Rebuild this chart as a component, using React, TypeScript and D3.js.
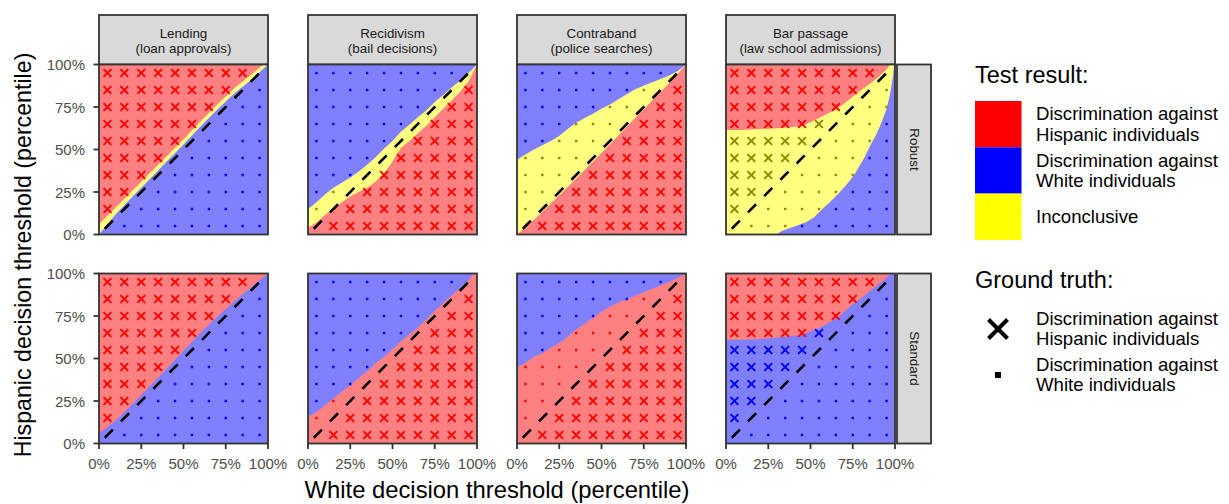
import React from "react";
import * as d3 from "d3";

const categories = ["Lending", "Recidivism", "Contraband", "Bar passage"];
const categoryNotes = ["(loan approvals)", "(bail decisions)", "(police searches)", "(law school admissions)"];
const testTypes = ["Robust", "Standard"];

// result in the upper-left part of each panel ("hisp" = against Hispanic, "white" = against White)
const upperLeftResult = ["hisp", "white", "white", "hisp"];
// ground truth is "against Hispanic" above the diagonal (true) or below it (false)
const hispTruthAbove = [true, false, false, true];

const gridValues = [5, 15, 25, 35, 45, 55, 65, 75, 85, 95];
const tickValues = [0, 25, 50, 75, 100];

// region boundaries, [white threshold %, hispanic threshold %]
const lendingRobustUpper = [[0, 6], [10, 16], [20, 26], [30, 36], [40, 46], [50, 56], [60, 66.5], [70, 76.5], [80, 86], [90, 94], [97, 100], [100, 100]];
const lendingRobustLower = [[0, 0], [10, 12], [20, 22.5], [30, 32.5], [40, 43], [50, 53], [60, 63.5], [70, 73.5], [80, 83], [90, 91], [100, 100]];
const lendingStandard = [[0, 6], [10, 13.5], [20, 23.5], [30, 33.5], [40, 44], [50, 54.5], [60, 65], [70, 74.5], [80, 83.5], [90, 92], [100, 100]];

const recidRobustUpper = [[0, 15], [5, 19], [10, 23.5], [15, 27.5], [20, 30.5], [25, 33.5], [30, 37], [35, 41], [40, 45.5], [45, 50.5], [50, 55], [55, 60.5], [60, 64.5], [65, 69], [70, 73], [75, 78], [80, 82], [85, 86.5], [90, 90.5], [95, 95], [100, 100]];
const recidRobustLower = [[0, 4], [5, 7], [10, 11.5], [15, 15.5], [20, 19], [25, 22.5], [30, 25], [35, 27.5], [40, 31], [45, 36], [50, 43], [55, 51], [60, 55], [65, 59.5], [70, 64], [75, 69], [80, 74], [85, 79], [90, 84], [95, 90], [100, 100]];
const recidStandard = [[0, 15.5], [5, 18.5], [10, 22.5], [15, 26.3], [20, 30.5], [25, 34.3], [30, 38.5], [35, 42.5], [40, 47], [45, 51], [50, 55.5], [55, 60], [60, 64], [65, 68.3], [70, 73], [75, 78], [80, 82.5], [85, 87], [90, 91.5], [95, 96], [98, 100], [100, 100]];

const contraRobustUpper = [[0, 44], [5, 47], [10, 50], [15, 52.5], [20, 55], [25, 58], [30, 62], [35, 65.8], [40, 68.5], [45, 71], [50, 74], [55, 76.5], [60, 79.5], [65, 82.5], [70, 85.5], [75, 87.5], [80, 89.5], [85, 91.5], [90, 93.5], [95, 96], [100, 100]];
const contraRobustLower = [[0, 0], [10, 8.5], [30, 28], [50, 48], [70, 68.5], [90, 89], [100, 100]];
const contraStandard = [[0, 44.8], [5, 47.5], [10, 51], [15, 53], [20, 56.5], [25, 59], [30, 63], [35, 67], [40, 70.5], [45, 74], [50, 77.5], [55, 80.5], [60, 83], [65, 84.7], [70, 87], [75, 89], [80, 91], [85, 93], [90, 95], [95, 97.3], [100, 100]];

const barRobustUpper = [[0, 61.5], [10, 61.5], [20, 62], [30, 62.5], [40, 63.3], [45, 64], [50, 66], [55, 68.5], [60, 71], [65, 73.5], [70, 77], [75, 81], [80, 85], [85, 88.5], [90, 92.5], [95, 97], [97, 100], [100, 100]];
const barRobustLower = [[0, 0], [30, 0], [33, 2], [40, 4.5], [47, 7], [52, 10], [57, 15], [62, 19.5], [67, 24.5], [71.5, 29.5], [75.5, 34.5], [78.5, 39.5], [81.5, 44.5], [84, 49.5], [86.5, 54.5], [89, 59], [91, 63.5], [93, 68.5], [95, 74], [96.5, 80], [97.5, 85], [98.8, 93], [99.5, 100], [100, 100]];
const barStandard = [[0, 61], [10, 61], [20, 61.5], [30, 62.3], [40, 63.2], [45, 64], [50, 66], [55, 67.8], [60, 70.5], [65, 73.5], [70, 77.5], [75, 82], [80, 85.5], [85, 89.5], [90, 93.5], [95, 97.4], [97, 100], [100, 100]];

const robustUpper = [lendingRobustUpper, recidRobustUpper, contraRobustUpper, barRobustUpper];
const robustLower = [lendingRobustLower, recidRobustLower, contraRobustLower, barRobustLower];
const standardCurves = [lendingStandard, recidStandard, contraStandard, barStandard];

const legendResults = [
  { key: "hisp", lines: ["Discrimination against", "Hispanic individuals"] },
  { key: "white", lines: ["Discrimination against", "White individuals"] },
  { key: "incon", lines: ["Inconclusive"] },
];
const legendTruth = [
  { key: "x", lines: ["Discrimination against", "Hispanic individuals"] },
  { key: "dot", lines: ["Discrimination against", "White individuals"] },
];

const FONT = "'Liberation Sans', Arial, Helvetica, sans-serif";
const regionFill = { hisp: "#FF8080", white: "#8080FF", incon: "#FFFF80" };
const pointColor = { hisp: "#FF0000", white: "#0000FF", incon: "#8B8B00" };
const keyFill = { hisp: "#FF0000", white: "#0000FF", incon: "#FFFF00" };

const PW = 169;
const PH = 170;
const colLeft = [99, 308, 517, 726];
const rowTop = [64.5, 273.5];

function interp(curve: number[][], x: number) {
  for (let i = 0; i < curve.length - 1; i++) {
    const [x0, y0] = curve[i];
    const [x1, y1] = curve[i + 1];
    if (x <= x1) return x1 === x0 ? y1 : y0 + ((x - x0) / (x1 - x0)) * (y1 - y0);
  }
  return curve[curve.length - 1][1];
}

const xs = d3.scaleLinear().domain([0, 100]).range([0, PW]);
const ys = d3.scaleLinear().domain([0, 100]).range([PH, 0]);
const areaAbove = d3
  .area<number[]>()
  .x((d) => xs(d[0]))
  .y0(0)
  .y1((d) => ys(d[1]));
const diagLine = d3
  .line<number>()
  .x((d) => xs(d))
  .y((d) => ys(d));

function Panel({ col, row }: { col: number; row: number }) {
  const top = upperLeftResult[col];
  const bottom = top === "hisp" ? "white" : "hisp";
  const upper = row === 0 ? robustUpper[col] : standardCurves[col];
  const lower = row === 0 ? robustLower[col] : standardCurves[col];

  const classify = (x: number, y: number) => {
    if (y > interp(upper, x)) return top;
    if (y > interp(lower, x)) return "incon";
    return bottom;
  };

  const points: { x: number; y: number; cross: boolean; res: string }[] = [];
  gridValues.forEach((gx) =>
    gridValues.forEach((gy) => {
      if (gx === gy) return;
      const cross = hispTruthAbove[col] ? gy > gx : gx > gy;
      points.push({ x: gx, y: gy, cross, res: classify(gx, gy) });
    })
  );

  return (
    <g transform={`translate(${colLeft[col]},${rowTop[row]})`}>
      <rect width={PW} height={PH} fill={regionFill[bottom]} />
      {row === 0 && <path d={areaAbove(lower) || ""} fill={regionFill.incon} />}
      <path d={areaAbove(upper) || ""} fill={regionFill[top]} />
      {points.map((p, i) => {
        const cx = xs(p.x);
        const cy = ys(p.y);
        const c = pointColor[p.res];
        if (p.cross) {
          const s = 3.9;
          return (
            <path
              key={i}
              d={`M${cx - s},${cy - s}L${cx + s},${cy + s}M${cx - s},${cy + s}L${cx + s},${cy - s}`}
              stroke={c}
              strokeWidth={2}
            />
          );
        }
        return <rect key={i} x={cx - 1.2} y={cy - 1.2} width={2.4} height={2.4} fill={c} />;
      })}
      <path d={diagLine([3.4, 96.6]) || ""} stroke="#000" strokeWidth={2.6} strokeDasharray="11.5 11.5" fill="none" />
      <rect width={PW} height={PH} fill="none" stroke="#333333" strokeWidth={1.8} />
    </g>
  );
}

export default function App() {
  return (
    <svg width={1229} height={504} style={{ position: "absolute", left: 0, top: 0, background: "#fff" }} fontFamily={FONT}>
      <rect width={1229} height={504} fill="#fff" />
      {/* column strips */}
      {categories.map((c, i) => (
        <g key={c} transform={`translate(${colLeft[i]},15)`}>
          <rect width={PW} height={rowTop[0] - 15} fill="#D9D9D9" stroke="#333333" strokeWidth={1.8} />
          <text x={PW / 2} y={18} textAnchor="middle" dominantBaseline="central" fontSize={13.4} fill="#1A1A1A">
            {c}
          </text>
          <text x={PW / 2} y={33} textAnchor="middle" dominantBaseline="central" fontSize={13.4} fill="#1A1A1A">
            {categoryNotes[i]}
          </text>
        </g>
      ))}
      {/* row strips */}
      {testTypes.map((t, r) => (
        <g key={t} transform={`translate(897,${rowTop[r]})`}>
          <rect width={34} height={PH} fill="#D9D9D9" stroke="#333333" strokeWidth={1.8} />
          <text transform={`translate(17,${PH / 2}) rotate(90)`} textAnchor="middle" dominantBaseline="central" fontSize={13.4} fill="#1A1A1A">
            {t}
          </text>
        </g>
      ))}
      {testTypes.map((t, r) => categories.map((c, i) => <Panel key={t + c} col={i} row={r} />))}
      {/* y axis */}
      {rowTop.map((rt, r) => (
        <g key={r} transform={`translate(${colLeft[0]},${rt})`}>
          {tickValues.map((v) => (
            <g key={v} transform={`translate(0,${ys(v)})`}>
              <line x1={-5.5} x2={0} stroke="#333333" strokeWidth={1.8} />
              <text x={-14} textAnchor="end" dominantBaseline="central" fontSize={15} fill="#4D4D4D">
                {v}%
              </text>
            </g>
          ))}
        </g>
      ))}
      {/* x axes */}
      {colLeft.map((cl, i) => (
        <g key={i} transform={`translate(${cl},${rowTop[1] + PH})`}>
          {tickValues.map((v) => (
            <g key={v} transform={`translate(${xs(v)},0)`}>
              <line y1={0} y2={5.5} stroke="#333333" strokeWidth={1.8} />
              <text y={19.5} textAnchor="middle" dominantBaseline="central" fontSize={15} fill="#4D4D4D">
                {v}%
              </text>
            </g>
          ))}
        </g>
      ))}
      <text x={497} y={489} textAnchor="middle" dominantBaseline="central" fontSize={23.8} fill="#000">
        White decision threshold (percentile)
      </text>
      <text transform="translate(23,255) rotate(-90)" textAnchor="middle" dominantBaseline="central" fontSize={23.2} fill="#000">
        Hispanic decision threshold (percentile)
      </text>
      {/* legend: test result */}
      <text x={975} y={75} dominantBaseline="central" fontSize={23.5} fill="#000">
        Test result:
      </text>
      {legendResults.map((l, i) => {
        const y0 = 101 + i * 46.3;
        return (
          <g key={l.key}>
            <rect x={975} y={y0} width={46.5} height={46.3} fill={keyFill[l.key]} />
            {l.lines.map((ln, j) => (
              <text key={j} x={1036} y={y0 + 23 + (j - (l.lines.length - 1) / 2) * 20.5} dominantBaseline="central" fontSize={18.6} fill="#000">
                {ln}
              </text>
            ))}
          </g>
        );
      })}
      {/* legend: ground truth */}
      <text x={975} y={280} dominantBaseline="central" fontSize={23.5} fill="#000">
        Ground truth:
      </text>
      {legendTruth.map((l, i) => {
        const cy = 329 + i * 46;
        return (
          <g key={l.key}>
            {l.key === "x" ? (
              <path d={`M${998 - 9.5},${cy - 9.5}L${998 + 9.5},${cy + 9.5}M${998 - 9.5},${cy + 9.5}L${998 + 9.5},${cy - 9.5}`} stroke="#000" strokeWidth={4} />
            ) : (
              <rect x={998 - 3} y={cy - 3} width={6} height={6} fill="#000" />
            )}
            {l.lines.map((ln, j) => (
              <text key={j} x={1036} y={cy + (j - 0.5) * 20.5 - 0.5} dominantBaseline="central" fontSize={18.6} fill="#000">
                {ln}
              </text>
            ))}
          </g>
        );
      })}
    </svg>
  );
}
